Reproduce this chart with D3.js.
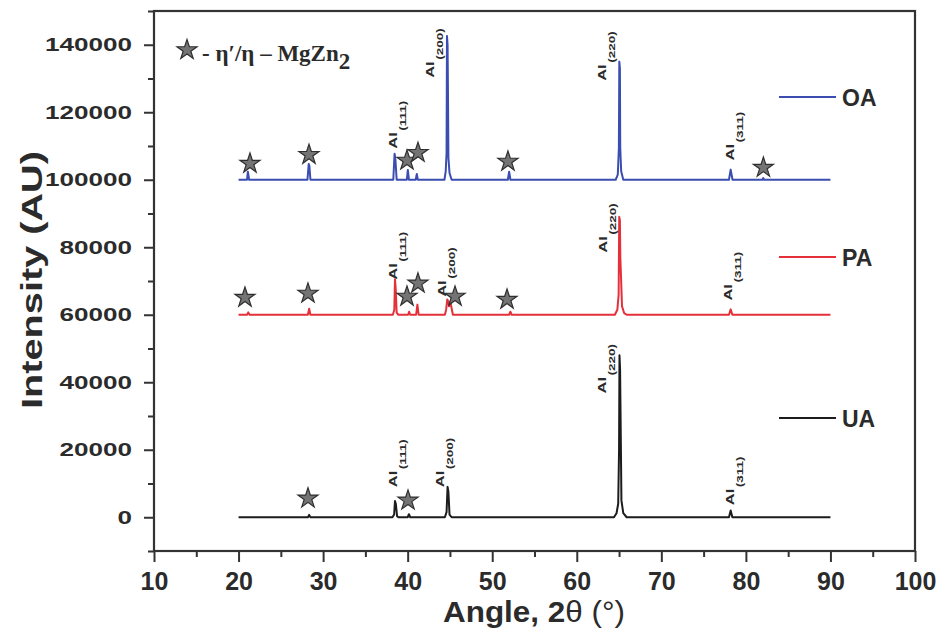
<!DOCTYPE html>
<html>
<head>
<meta charset="utf-8">
<script src="https://cdn.jsdelivr.net/npm/d3@7"></script>
<style>
    body { margin: 0; background: #fff; }
    svg { display: block; }
    text { font-family: "Liberation Sans", Arial, sans-serif; fill: #2b2b2b; }
</style>
</head>
<body>
<svg id="chart" width="942" height="633"></svg>
<script>
// ---- data ----
var angleTicks = [10, 20, 30, 40, 50, 60, 70, 80, 90, 100];
var angleMinorTicks = [15, 25, 35, 45, 55, 65, 75, 85, 95];
var intensityTicks = [0, 20000, 40000, 60000, 80000, 100000, 120000, 140000];
var intensityMinorTicks = [-10000, 10000, 30000, 50000, 70000, 90000, 110000, 130000, 150000];

var seriesNames = ["OA", "PA", "UA"];
var seriesOffsets = [100000, 60000, 0];

// [2theta, intensity above own baseline]
var oaPattern = [[20, 0], [21.0, 0], [21.1, 2400], [21.25, 0], [28.15, 0], [28.3, 4700], [28.38, 4000], [28.5, 0],
    [38.3, 0], [38.45, 7700], [38.55, 6000], [38.7, 0], [39.9, 0], [40.02, 2900], [40.15, 0], [40.95, 0], [41.08, 1700], [41.2, 0],
    [44.35, 0], [44.5, 2500], [44.6, 8000], [44.65, 42600], [44.72, 40000], [44.76, 28000], [44.82, 6500], [44.95, 2000], [45.2, 0],
    [51.85, 0], [52.0, 2400], [52.15, 0], [64.6, 0], [64.85, 1500], [64.98, 9500], [65.03, 35000], [65.1, 33000], [65.14, 9500],
    [65.25, 2500], [65.5, 0], [78.0, 0], [78.2, 3000], [78.42, 0], [81.95, 0], [82.05, 500], [82.15, 0], [90, 0]];
var paPattern = [[20, 0], [21.0, 0], [21.15, 700], [21.3, 0], [28.2, 0], [28.35, 1800], [28.5, 0],
    [38.25, 0], [38.42, 1500], [38.5, 10500], [38.58, 8000], [38.7, 600], [38.9, 0], [40.05, 0], [40.18, 900], [40.3, 0],
    [41.0, 0], [41.15, 3000], [41.3, 0], [44.4, 0], [44.55, 1500], [44.68, 4500], [44.8, 4000], [44.9, 2500], [45.05, 3800],
    [45.15, 2500], [45.35, 0], [52.0, 0], [52.15, 900], [52.3, 0], [64.5, 0], [64.8, 1500], [64.95, 6000], [65.02, 29000],
    [65.1, 28000], [65.15, 17000], [65.22, 12000], [65.35, 2500], [65.6, 500], [65.9, 0], [78.0, 0], [78.2, 1600], [78.4, 0], [90, 0]];
var uaPattern = [[20, 0], [28.2, 0], [28.35, 700], [28.5, 0], [38.2, 0], [38.4, 800], [38.5, 4800], [38.6, 4000], [38.75, 300], [38.9, 0],
    [40.0, 0], [40.15, 900], [40.3, 0], [44.4, 0], [44.6, 1500], [44.72, 9000], [44.82, 7500], [44.95, 800], [45.2, 0],
    [64.4, 0], [64.7, 1200], [64.9, 4000], [65.0, 20000], [65.05, 48000], [65.12, 44000], [65.18, 30000], [65.28, 5000],
    [65.5, 1200], [65.9, 0], [78.0, 0], [78.2, 2000], [78.4, 0], [90, 0]];
var patterns = [oaPattern, paPattern, uaPattern];

// eta' / eta MgZn2 star markers [2theta, intensity]
var starPoints = [[21.35, 104800], [28.33, 107400], [39.92, 105700], [41.22, 108000], [51.86, 105400], [82.07, 103600],
    [20.76, 65100], [28.21, 66300], [39.92, 65400], [41.22, 69300], [45.6, 65400], [51.75, 64500],
    [28.21, 5600], [40.04, 5000]];

// Al reflection labels: hkl, 2theta, intensity where the label starts
var labelHkl = ["(111)", "(200)", "(220)", "(311)", "(111)", "(200)", "(220)", "(311)", "(111)", "(200)", "(220)", "(311)"];
var labelAngles = [38.74, 43.1, 63.45, 78.59, 38.74, 44.5, 63.57, 78.36, 38.74, 44.3, 63.45, 78.6];
var labelIntensities = [109200, 130200, 129300, 105700, 70400, 65300, 78400, 64200, 8900, 8900, 36700, 3550];

// ---- styles ----
var seriesColors = ["#3b4db0", "#e5303a", "#1c1c1c"];
var axisColor = "#333";

var svg = d3.select("#chart");
var x = d3.scaleLinear().domain([10, 100]).range([154, 915]);
var y = d3.scaleLinear().domain([-10000, 150000]).range([551, 11]);

// series
patterns.forEach(function (pts, i) {
    var line = d3.line()
        .x(function (d) { return x(d[0]); })
        .y(function (d) { return y(d[1] + seriesOffsets[i]); });
    svg.append("path").datum(pts)
        .attr("d", line)
        .attr("fill", "none")
        .attr("stroke", seriesColors[i])
        .attr("stroke-width", 2)
        .attr("stroke-linejoin", "round");
});

// stars
var star = d3.symbol().type(d3.symbolStar).size(125);
svg.append("g").selectAll("path").data(starPoints).enter().append("path")
    .attr("d", star)
    .attr("transform", function (d) { return "translate(" + x(d[0]) + "," + y(d[1]) + ")"; })
    .attr("fill", "#747474").attr("stroke", "#2f2f2f").attr("stroke-width", 1.2);

// Al(hkl) labels, rotated
var lab = svg.append("g").selectAll("text").data(labelHkl).enter().append("text")
    .attr("transform", function (d, i) {
        return "translate(" + x(labelAngles[i]) + "," + y(labelIntensities[i]) + ") rotate(-90) scale(1.5,1)";
    })
    .style("font-size", "11px").style("font-weight", "bold");
lab.append("tspan").text("Al");
lab.append("tspan").attr("dx", 1).attr("dy", 9).style("font-size", "9px").text(function (d) { return d; });

// legend
var legendY = [97, 257, 418];
seriesNames.forEach(function (name, i) {
    svg.append("line").attr("x1", 779).attr("x2", 836).attr("y1", legendY[i]).attr("y2", legendY[i])
        .attr("stroke", seriesColors[i]).attr("stroke-width", 2);
    svg.append("text").attr("x", 842).attr("y", legendY[i] + 9)
        .style("font-size", "23px").style("font-weight", "bold").text(name);
});

// star legend
svg.append("path").attr("d", star).attr("transform", "translate(187,50)")
    .attr("fill", "#747474").attr("stroke", "#2f2f2f").attr("stroke-width", 1.2);
var starText = svg.append("text").attr("x", 202).attr("y", 61)
    .style("font-family", "'Liberation Serif', 'Times New Roman', serif")
    .style("font-size", "23px").style("font-weight", "bold");
starText.append("tspan").text("- \u03B7\u2032/\u03B7 \u2013 MgZn");
starText.append("tspan").attr("dy", 8).text("2");

// axes
var xAxis = svg.append("g").attr("transform", "translate(0,551)")
    .call(d3.axisBottom(x).tickValues(angleTicks).tickSize(11).tickPadding(10).tickSizeOuter(0));
xAxis.selectAll("text").style("font-size", "25px").style("font-weight", "bold");
var xMinor = svg.append("g").attr("transform", "translate(0,551)")
    .call(d3.axisBottom(x).tickValues(angleMinorTicks).tickSize(6).tickFormat("").tickSizeOuter(0));

var yAxis = svg.append("g").attr("transform", "translate(154,0)")
    .call(d3.axisLeft(y).tickValues(intensityTicks).tickSize(10).tickPadding(12).tickFormat(d3.format("d")).tickSizeOuter(0));
yAxis.selectAll("text").style("font-size", "18px").style("font-weight", "bold")
    .attr("textLength", function (d) { return String(d).length * 14.5; })
    .attr("lengthAdjust", "spacingAndGlyphs");
var yMinor = svg.append("g").attr("transform", "translate(154,0)")
    .call(d3.axisLeft(y).tickValues(intensityMinorTicks).tickSize(6).tickFormat("").tickSizeOuter(0));

[xAxis, xMinor, yAxis, yMinor].forEach(function (a) {
    a.select(".domain").remove();
    a.selectAll("line").attr("stroke", axisColor).attr("stroke-width", 2);
});

// frame
svg.append("rect").attr("x", 154).attr("y", 11).attr("width", 915 - 154).attr("height", 551 - 11)
    .attr("fill", "none").attr("stroke", axisColor).attr("stroke-width", 2.2);

// titles
var xt = svg.append("text").attr("x", 534).attr("y", 622).attr("text-anchor", "middle")
    .attr("textLength", 182).attr("lengthAdjust", "spacingAndGlyphs")
    .style("font-size", "30px");
xt.append("tspan").style("font-weight", "bold").text("Angle, 2");
xt.append("tspan").text("\u03B8 (\u00B0)");

svg.append("text").attr("transform", "translate(42,280) rotate(-90)").attr("text-anchor", "middle")
    .attr("textLength", 258).attr("lengthAdjust", "spacingAndGlyphs")
    .style("font-size", "29px").style("font-weight", "bold").text("Intensity (AU)");
</script>
</body>
</html>
